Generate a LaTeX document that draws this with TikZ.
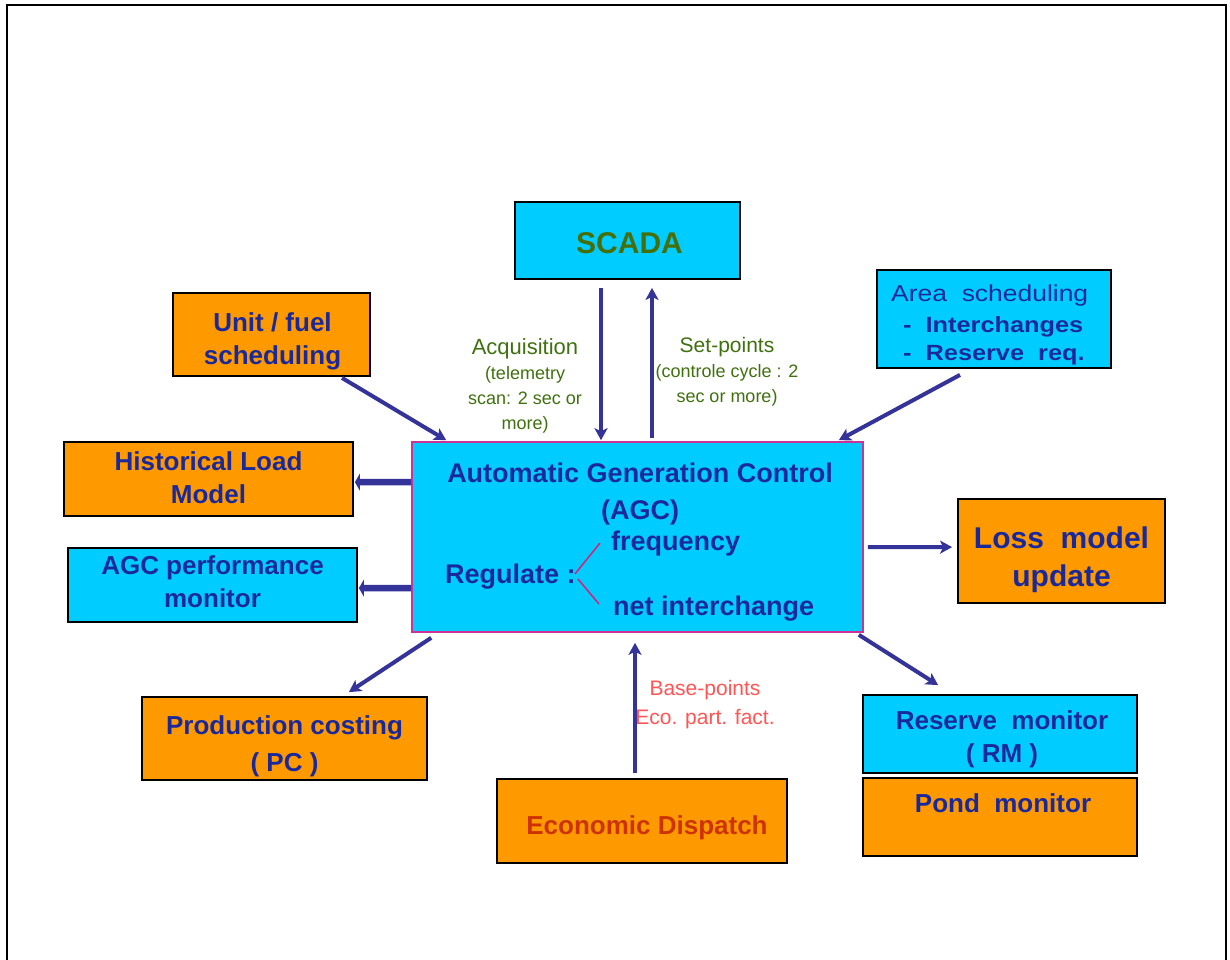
\documentclass[tikz,border=0pt]{standalone}
\usepackage{fontspec}
\setmainfont{Liberation Sans}
\newfontfamily\widefont[FakeStretch=1.15]{Liberation Sans}
\usetikzlibrary{arrows.meta,calc}

\definecolor{boxcyan}{RGB}{0,204,255}
\definecolor{boxorange}{RGB}{255,153,0}
\definecolor{txtblue}{RGB}{25,40,155}
\definecolor{arrblue}{RGB}{51,51,153}
\definecolor{lblgreen}{RGB}{64,112,16}
\definecolor{scadagreen}{RGB}{70,110,10}
\definecolor{lblred}{RGB}{255,85,85}
\definecolor{edred}{RGB}{204,51,0}
\definecolor{agcframe}{RGB}{204,51,153}
\definecolor{regpink}{RGB}{220,30,120}

\newcommand{\fsz}[2]{\fontsize{#1}{#2}\selectfont}

\begin{document}
\begin{tikzpicture}[x=1pt,y=-1pt,
  blk/.style={draw=black,line width=1.8pt,inner sep=0pt},
  cbox/.style={blk,fill=boxcyan},
  obox/.style={blk,fill=boxorange},
  txt/.style={inner sep=0pt,align=center},
  boxtxt/.style={txt,text=txtblue,font=\bfseries\fsz{26}{33}},
  arr/.style={draw=arrblue,line width=4pt,
    -{Stealth[length=12pt,width=13pt,inset=3pt]}},
  thickarr/.style={draw=arrblue,line width=6.5pt,
    -{Triangle[length=5pt,width=17pt]}},
  lbl/.style={txt,text=lblgreen,font=\fsz{18}{25}}
]
\useasboundingbox (0,0) rectangle (1230,959);
\fill[white] (0,0) rectangle (1230,959);

% page frame (open at the bottom)
\draw[line width=2pt,line cap=rect] (7,959) -- (7,5) -- (1226,5) -- (1226,959);

% boxes
\node[cbox,minimum width=225,minimum height=77] (scada) at (627.5,240.5) {};
\node[obox,minimum width=197,minimum height=83] (unit) at (271.5,334.5) {};
\node[cbox,minimum width=234,minimum height=98] (area) at (994,319) {};
\node[obox,minimum width=289,minimum height=74] (hist) at (208.5,479) {};
\node[cbox,minimum width=289,minimum height=74] (perf) at (212.5,585) {};
\node[draw=agcframe,fill=boxcyan,line width=1.6pt,minimum width=451,
  minimum height=190,inner sep=0pt] (agc) at (637.5,537) {};
\node[obox,minimum width=207,minimum height=104] (loss) at (1061.5,551) {};
\node[obox,minimum width=285,minimum height=83] (pc) at (284.5,738.5) {};
\node[obox,minimum width=290,minimum height=84] (ed) at (642,821) {};
\node[cbox,minimum width=274,minimum height=78] (rm) at (1000,734) {};
\node[obox,minimum width=274,minimum height=78] (pond) at (1000,817) {};

% box texts
\node[txt,text=scadagreen,font=\bfseries\fsz{30}{34}] (scadatxt)
  at ($(scada.center)+(2,3)$) {SCADA};
\node[boxtxt] (unittxt) at ($(unit.center)+(1,7)$) {Unit / fuel\\scheduling};
\node[boxtxt] (histtxt) at ($(hist.center)+(0,-1)$) {Historical Load\\Model};
\node[boxtxt] (perftxt) at ($(perf.center)+(0,-3)$) {AGC performance\\monitor};
\node[boxtxt,font=\bfseries\fsz{30}{38}] (losstxt) at ($(loss.center)+(0,8.5)$)
  {Loss~~model\\update};
\node[boxtxt,font=\bfseries\fsz{26}{37}] (pctxt) at ($(pc.center)+(0,8)$)
  {Production costing\\( PC )};
\node[boxtxt,text=edred] (edtxt) at ($(ed.center)+(5,7)$) {Economic Dispatch};
\node[boxtxt] (rmtxt) at ($(rm.center)+(2,5)$) {Reserve~~monitor\\( RM )};
\node[boxtxt] (pondtxt) at (1003,803) {Pond~~monitor};

% area scheduling lines
\node[txt,anchor=west,text=txtblue,font=\widefont\fsz{23}{26}] (area1)
  at (891,296) {Area~~scheduling};
\node[txt,anchor=west,text=txtblue,font=\widefont\bfseries\fsz{22}{26}] (area2)
  at (903,327) {-~~Interchanges};
\node[txt,anchor=west,text=txtblue,font=\widefont\bfseries\fsz{22}{26}] (area3)
  at (903,355) {-~~Reserve~~req.};

% texts inside the AGC box
\node[txt,text=txtblue,font=\bfseries\fsz{27}{37}] (agctitle) at (640,494)
  {Automatic Generation Control\\(AGC)};
\node[txt,anchor=west,text=txtblue,font=\bfseries\fsz{27}{34}] (regulate)
  at (445,577) {Regulate :};
\node[txt,anchor=west,text=txtblue,font=\bfseries\fsz{27}{34}] (freq)
  at (611,544) {frequency};
\node[txt,anchor=west,text=txtblue,font=\bfseries\fsz{27}{34}] (netint)
  at (613,609) {net interchange};
\draw[regpink,line width=1.5pt] ($(freq.west)+(-11,-1)$) -- ($(regulate.east)+(-1,-3)$);
\draw[regpink,line width=1.5pt] ($(regulate.east)+(2,2)$) -- ($(netint.west)+(-14,-5)$);

% labels on the SCADA and dispatch links
\node[lbl] (acq) at (525,386)
  {{\fsz{22}{25}Acquisition}\\(telemetry\\scan: 2 sec or\\more)};
\node[lbl] (setp) at (727,372)
  {{\fsz{21}{25}Set-points}\\(controle cycle : 2\\sec or more)};
\node[txt,text=lblred,font=\fsz{21}{29}] (basep) at (705,705)
  {Base-points\\Eco. part. fact.};

% connectors
\draw[arr] ($(scada.south)+(-26.5,8)$) -- ($(agc.north)+(-36.5,-1)$);
\draw[arr] ($(agc.north)+(14.5,-3)$) -- ($(scada.south)+(24.5,8)$);
\draw[arr] ($(unit.south)+(70.5,1)$) -- ($(agc.north west)+(35,-1)$);
\draw[arr] ($(area.south)+(-34,6)$) -- ($(agc.north east)+(-25,-1)$);
\draw[thickarr] ($(agc.north west)+(0,41)$) -- ($(hist.north east)+(1,41)$);
\draw[thickarr] ($(agc.north west)+(0,147)$) -- ($(perf.north east)+(1,41)$);
\draw[arr] ($(agc.north east)+(4,106)$) -- ($(loss.north west)+(-5,49)$);
\draw[arr] ($(agc.south west)+(20,5)$) -- ($(pc.north east)+(-79,-4)$);
\draw[arr] ($(agc.south east)+(-5,2)$) -- ($(rm.north west)+(76,-9)$);
\draw[arr] ($(ed.north)+(-7,-5)$) -- ($(agc.south)+(-2.5,10)$);
\end{tikzpicture}
\end{document}
